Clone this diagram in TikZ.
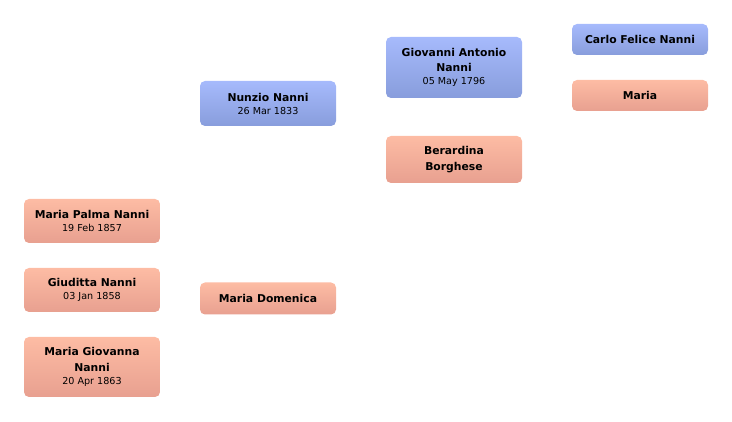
\documentclass[tikz,border=0pt]{standalone}
\usepackage{fontspec}
\setmainfont{DejaVu Sans}
\usepackage{tikz}
\definecolor{mtop}{RGB}{166,186,252}
\definecolor{mbot}{RGB}{136,157,220}
\definecolor{ftop}{RGB}{253,188,164}
\definecolor{fbot}{RGB}{232,160,144}

\begin{document}
\begin{tikzpicture}[x=1pt,y=-1pt,
	person/.style={rounded corners=5pt,minimum width=136pt,inner sep=2pt,align=center,
		font=\fontsize{10.8}{15.5}\selectfont\bfseries},
	male/.style={person,top color=mtop,bottom color=mbot},
	female/.style={person,top color=ftop,bottom color=fbot}]
	\useasboundingbox (0,0) rectangle (732,422);

	\node[female,minimum height=44pt] (mpalma) at (92,221) {Maria Palma Nanni\\[-2.5pt]\mdseries\fontsize{9.6}{12}\selectfont 19 Feb 1857};
	\node[female,minimum height=44pt] (giuditta) at (92,290) {Giuditta Nanni\\[-2.5pt]\mdseries\fontsize{9.6}{12}\selectfont 03 Jan 1858};
	\node[female,minimum height=60pt] (mgiovanna) at (92,367) {Maria Giovanna\\Nanni\\[-2.5pt]\mdseries\fontsize{9.6}{12}\selectfont 20 Apr 1863};

	\node[male,minimum height=45pt] (nunzio) at (268,103.5) {Nunzio Nanni\\[-2.5pt]\mdseries\fontsize{9.6}{12}\selectfont 26 Mar 1833};
	\node[female,minimum height=32pt] (mdomenica) at (268,298.5) {Maria Domenica};

	\node[male,minimum height=61pt] (giovanni) at (454,67.5) {Giovanni Antonio\\Nanni\\[-2.5pt]\mdseries\fontsize{9.6}{12}\selectfont 05 May 1796};
	\node[female,minimum height=47pt] (berardina) at (454,159.5) {Berardina\\Borghese};

	\node[male,minimum height=31pt] (carlo) at (640,39.5) {Carlo Felice Nanni};
	\node[female,minimum height=31pt] (maria) at (640,95.5) {Maria};
\end{tikzpicture}
\end{document}
